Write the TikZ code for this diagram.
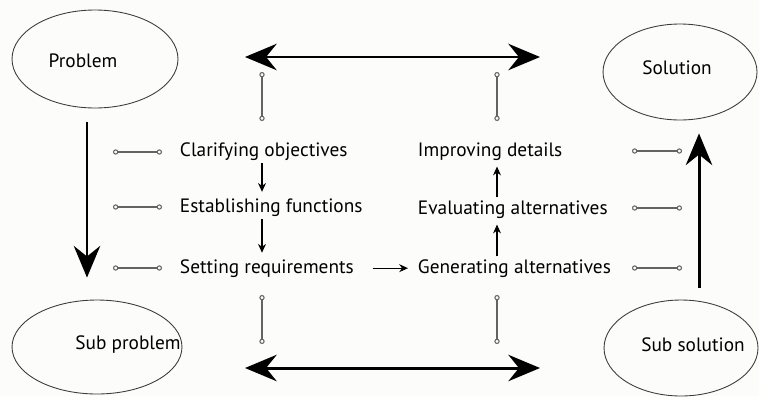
\documentclass[tikz,border=0pt]{standalone}
\usepackage{fontspec}
\setmainfont{PT Sans}
\usetikzlibrary{arrows.meta,shapes.geometric}
\definecolor{paper}{HTML}{FCFCFA}
\definecolor{inkgray}{HTML}{3C3C3C}

\begin{document}
\begin{tikzpicture}[x=0.02cm,y=-0.02cm,
    blob/.style={draw=inkgray,ellipse,line width=0.5pt,inner sep=0pt},
    stage/.style={font=\fontsize{11}{13}\selectfont,inner sep=1.5pt,anchor=base west},
    tag/.style={font=\fontsize{11}{13}\selectfont,inner sep=0pt},
    link/.style={draw=inkgray!80,line width=0.6pt,{Circle[open,length=3pt]}-{Circle[open,length=3pt]}},
    bigarrow/.style={line width=1.7pt,-{Stealth[length=18pt,width=15pt,inset=6pt]}},
    bigboth/.style={line width=1.7pt,{Stealth[length=18pt,width=15pt,inset=6pt]}-{Stealth[length=18pt,width=15pt,inset=6pt]}},
    smallarrow/.style={line width=0.6pt,shorten >=2pt,-{Stealth[length=5pt,width=4.5pt]}}]
        \fill[paper] (0,0) rectangle (759,396);
        \useasboundingbox (0,0) rectangle (759,396);
        % corner ellipses
        \node[blob,minimum width=3.32cm,minimum height=1.96cm] (prob) at (95,59) {};
        \node[tag] at (83,61) {Problem};
        \node[blob,minimum width=3.08cm,minimum height=1.92cm] (sol) at (680,72) {};
        \node[tag] at (677,68) {Solution};
        \node[blob,minimum width=3.4cm,minimum height=1.88cm] (subp) at (97,347) {};
        \node[tag] at (128,345) {Sub problem};
        \node[blob,minimum width=3.08cm,minimum height=1.92cm] (subs) at (681,348) {};
        \node[tag] at (693,345) {Sub solution};
        % big arrows
        \draw[bigarrow] ([shift={(-8,14)}]prob.south) -- ([shift={(-10,-22)}]subp.north);
        \draw[bigarrow] ([shift={(18,-12)}]subs.north) -- ([shift={(19,13)}]sol.south);
        \coordinate (tl) at (245,57);
        \coordinate (tr) at (540,57);
        \coordinate (bl) at (245,368);
        \coordinate (br) at (540,368);
        \draw[bigboth] (tl) -- (tr);
        \draw[bigboth] (bl) -- (br);
        % stages
        \node[stage] (clar) at (177,156) {Clarifying objectives};
        \node[stage] (est)  at (177,212) {Establishing functions};
        \node[stage] (set)  at (177,273) {Setting requirements};
        \node[stage] (gen)  at (415,273) {Generating alternatives};
        \node[stage] (eval) at (415,214) {Evaluating alternatives};
        \node[stage] (imp)  at (415,156) {Improving details};
        % vertical links
        \foreach \x/\n in {262/l,497/r} {
          \coordinate (\n-t1) at (\x,72);
          \coordinate (\n-t2) at (\x,121);
          \coordinate (\n-b1) at (\x,295);
          \coordinate (\n-b2) at (\x,344);
          \draw[link] (\n-t1) -- (\n-t2);
          \draw[link] (\n-b1) -- (\n-b2);
        }
        % horizontal links
        \foreach \y/\n in {152/a,207/b,268/c} {
          \coordinate (l\n1) at (113,\y);
          \coordinate (l\n2) at (162,\y);
          \draw[link] (l\n1) -- (l\n2);
        }
        \foreach \y/\n in {151/a,208/b,268/c} {
          \coordinate (r\n1) at (632,\y);
          \coordinate (r\n2) at (682,\y);
          \draw[link] (r\n1) -- (r\n2);
        }
        % small arrows
        \draw[smallarrow] (clar.south -| l-t1) -- (est.north -| l-t1);
        \draw[smallarrow] (est.south -| l-t1) -- (set.north -| l-t1);
        \draw[smallarrow,shorten <=9pt,shorten >=4pt] (set.east) -- (gen.west);
        \draw[smallarrow] (gen.north -| r-t1) -- (eval.south -| r-t1);
        \draw[smallarrow] (eval.north -| r-t1) -- (imp.south -| r-t1);
\end{tikzpicture}
\end{document}
